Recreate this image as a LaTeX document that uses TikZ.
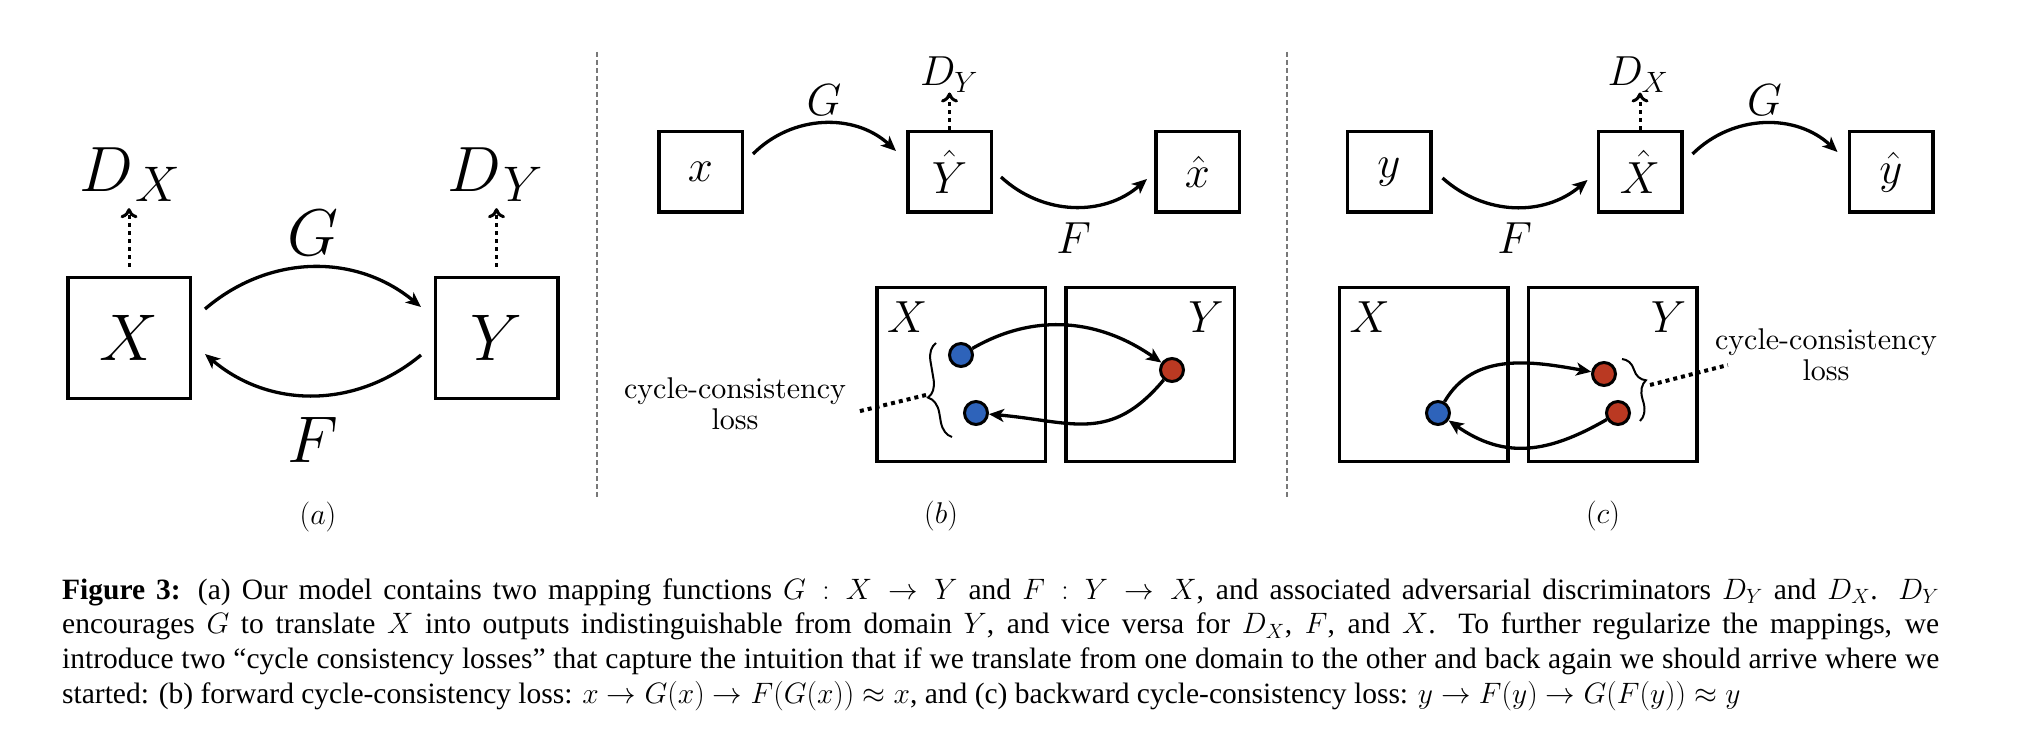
\documentclass[tikz,border=0pt]{standalone}
\usepackage{fix-cm}
\usepackage{fontspec}
\newfontfamily\capfont{Liberation Serif}
\newfontfamily\lmten{lmroman10-regular.otf}
\usetikzlibrary{arrows.meta, positioning, decorations.pathreplacing}
\definecolor{dotblue}{RGB}{46,99,186}
\definecolor{dotred}{RGB}{186,57,34}
\definecolor{sepgray}{RGB}{120,120,120}

\begin{document}
\begin{tikzpicture}[x=1pt, y=1pt, >={Stealth[length=15pt,width=13pt,inset=4pt]},
	box/.style={draw, line width=3.5pt, inner sep=0pt},
	boxA/.style={box, minimum width=122.5pt, minimum height=120.5pt, font=\fontsize{66}{70}\selectfont},
	boxS/.style={box, minimum width=83.5pt, minimum height=80.5pt, font=\fontsize{45}{50}\selectfont},
	boxD/.style={box, minimum width=168.5pt, minimum height=173.5pt},
	lbl/.style={inner sep=0pt},
	bigfont/.style={font=\fontsize{66}{70}\selectfont},
	midfont/.style={font=\fontsize{45}{50}\selectfont},
	tag/.style={inner sep=0pt, font=\lmten\fontsize{30}{31}\selectfont},
	map/.style={->, line width=3.3pt},
	disc/.style={-{To[length=10pt,width=17pt]}, line width=3pt, dash pattern=on 4pt off 4pt},
	dot/.style={circle, draw, line width=3pt, minimum size=23pt, inner sep=0pt},
	brc/.style={decorate, decoration={brace, amplitude=17pt}, line width=2pt},
	lossdots/.style={line width=4pt, dash pattern=on 4pt off 4pt},
	divider/.style={sepgray, line width=2pt, dash pattern=on 5pt off 3pt},
	capt/.style={inner sep=0pt, text width=1877pt, align=justify,
		font=\capfont\fontsize{29.5}{34.67}\selectfont}]
	
	\useasboundingbox (0,0) rectangle (2026,740);
	
	% --- 1. panel (a): X <-> Y ---
	\node[boxA] (aX) at (129,402) {$X$};
	\node[boxA] (aY) at (496.5,402) {$Y$};
	\node[lbl, anchor=base, font=\fontsize{64}{68}\selectfont] (aDX) at (130,548)
		{$D$\kern2pt\raisebox{-10pt}{\fontsize{50}{52}\selectfont$X$}};
	\node[lbl, anchor=base, font=\fontsize{64}{68}\selectfont] (aDY) at (495,548)
		{$D$\kern2pt\raisebox{-10pt}{\fontsize{50}{52}\selectfont$Y$}};
	\draw[disc, shorten <=9pt, shorten >=6pt] (aX.north) -- (aX.north |- aDX.south);
	\draw[disc, shorten <=9pt, shorten >=6pt] (aY.north) -- (aY.north |- aDY.south);
	
	\draw[map] ([shift={(13,29)}]aX.east) to[bend left=40]
		node[lbl, bigfont, above=10pt] (aG) {$G$} ([shift={(-12.5,31)}]aY.west);
	\draw[map] ([shift={(-12.5,-17)}]aY.west) to[bend left=40]
		node[lbl, bigfont, below=20pt] (aF) {$F$} ([shift={(13,-16)}]aX.east);
	
	\node[tag] (tagA) at (318,223) {$(a)$};
	
	% --- 2. separators ---
	\draw[divider] (597,688) -- (597,242);
	\draw[divider] (1287,688) -- (1287,242);
	
	% --- 3. panel (b): forward cycle ---
	\node[boxS] (bx) at (700.5,568) {$x$};
	\node[boxS, right=162pt of bx] (bYh) {$\hat{Y}$};
	\node[boxS, right=161pt of bYh] (bxh) {$\hat{x}$};
	\node[lbl, anchor=base, font=\fontsize{42}{46}\selectfont] (bDY) at (949,654) {$D_Y$};
	\draw[disc] (bYh.north) -- (bYh.north |- bDY.south);
	
	\draw[map] ([shift={(9,18)}]bx.east) to[bend left=44]
		node[lbl, midfont, above=6pt] (bG) {$G$} ([shift={(-10,21)}]bYh.west);
	\draw[map] ([shift={(8,-5)}]bYh.east) to[bend right=42]
		node[lbl, midfont, below=14pt] (bF) {$F$} ([shift={(-7,-7)}]bxh.west);
	
	\node[boxD] (bX) at (961,365.5) {};
	\node[boxD, right=17pt of bX] (bY) {};
	\node[lbl, midfont, anchor=north west] (bXl) at ([shift={(12,-16)}]bX.north west) {$X$};
	\node[lbl, midfont, anchor=north east] (bYl) at ([shift={(-12,-16)}]bY.north east) {$Y$};
	
	\node[dot, fill=dotblue] (b1) at (961,385) {};
	\node[dot, fill=dotred] (r1) at (1172,370) {};
	\node[dot, fill=dotblue] (b2) at (976,327) {};
	\draw[map] (b1) to[out=30, in=145] (r1);
	\draw[map] (r1) to[out=230, in=-5, looseness=1.2] (b2);
	
	% brace + loss label
	\coordinate (bBr1) at (952,303);
	\coordinate (bBr2) at (936,397);
	\draw[brc, decoration={aspect=0.45}] (bBr1) -- (bBr2);
	\coordinate (bTip) at (926,345);
	\node[tag, align=center] (bLoss) at (735,336) {cycle-consistency\\loss};
	\draw[lossdots] (bTip) -- ([shift={(10,-8)}]bLoss.east);
	
	\node[tag] (tagB) at (941,224) {$(b)$};
	
	% --- 4. panel (c): backward cycle ---
	\node[boxS] (cy) at (1389,568) {$y$};
	\node[boxS, right=164pt of cy] (cXh) {$\hat{X}$};
	\node[boxS, right=164pt of cXh] (cyh) {$\hat{y}$};
	\node[lbl, anchor=base, font=\fontsize{42}{46}\selectfont] (cDX) at (1638,654) {$D_X$};
	\draw[disc] (cXh.north) -- (cXh.north |- cDX.south);
	
	\draw[map] ([shift={(10,-6)}]cy.east) to[bend right=41]
		node[lbl, midfont, below=14pt] (cF) {$F$} ([shift={(-9,-8)}]cXh.west);
	\draw[map] ([shift={(9,18)}]cXh.east) to[bend left=44]
		node[lbl, midfont, above=6pt] (cG) {$G$} ([shift={(-10,20)}]cyh.west);
	
	\node[boxD] (cX) at (1423.5,365.5) {};
	\node[boxD, right=17pt of cX] (cY) {};
	\node[lbl, midfont, anchor=north west] (cXl) at ([shift={(12,-16)}]cX.north west) {$X$};
	\node[lbl, midfont, anchor=north east] (cYl) at ([shift={(-12,-16)}]cY.north east) {$Y$};
	
	\node[dot, fill=dotblue] (cb) at (1438,327) {};
	\node[dot, fill=dotred] (cr1) at (1604,366) {};
	\node[dot, fill=dotred] (cr2) at (1618,327) {};
	\draw[map] (cb) to[out=60, in=170] (cr1);
	\draw[map] (cr2) to[out=210, in=-35, looseness=1.1] (cb);
	
	% brace + loss label
	\coordinate (cBr1) at (1622,381);
	\coordinate (cBr2) at (1640,319);
	\draw[brc, decoration={aspect=0.42}] (cBr1) -- (cBr2);
	\coordinate (cTip) at (1650,355);
	\node[tag, align=center] (cLoss) at (1826,385) {cycle-consistency\\loss};
	\draw[lossdots] (cTip) -- ([shift={(13,-10)}]cLoss.west);
	
	\node[tag] (tagC) at (1603,224) {$(c)$};
	
	% --- 5. caption ---
	\node[capt, anchor=base west] (cap) at (62,141) {{\bfseries Figure 3:} (a) Our model contains two mapping functions $G : X \rightarrow Y$ and $F : Y \rightarrow X$, and associated adversarial discriminators $D_Y$ and $D_X$. $D_Y$\linebreak
		encourages $G$ to translate $X$ into outputs indistinguishable from domain $Y$, and vice versa for $D_X$, $F$, and $X$. To further regularize the mappings, we\linebreak
		introduce two “cycle consistency losses” that capture the intuition that if we translate from one domain to the other and back again we should arrive where we\linebreak
		started: (b) forward cycle-consistency loss: $x \rightarrow G(x) \rightarrow F(G(x)) \approx x$, and (c) backward cycle-consistency loss: $y \rightarrow F(y) \rightarrow G(F(y)) \approx y$};
	
\end{tikzpicture}
\end{document}
